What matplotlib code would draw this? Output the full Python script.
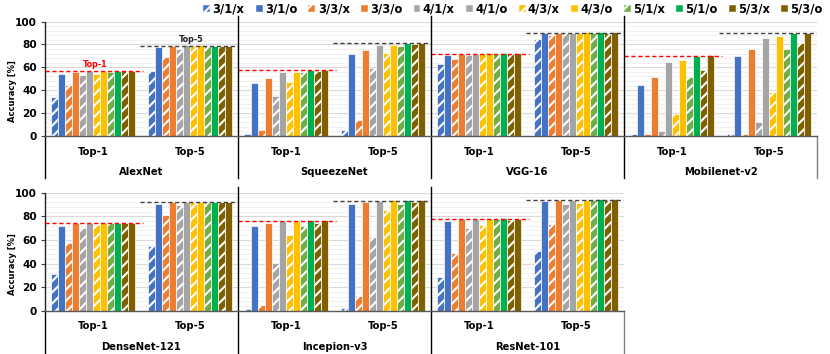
import matplotlib
matplotlib.use('Agg')
import matplotlib.pyplot as plt
from matplotlib.patches import Patch
from matplotlib.lines import Line2D
import matplotlib.transforms as mtrans
import numpy as np

plt.rcParams['font.family'] = ['DejaVu Sans']
plt.rcParams['font.weight'] = 'bold'
plt.rcParams['hatch.linewidth'] = 1.5

series = ['3/1/x', '3/1/o', '3/3/x', '3/3/o', '4/1/x', '4/1/o',
          '4/3/x', '4/3/o', '5/1/x', '5/1/o', '5/3/x', '5/3/o']
colors = ['#4472C4', '#4472C4', '#ED7D31', '#ED7D31', '#A5A5A5', '#A5A5A5',
          '#FFC000', '#FFC000', '#70AD47', '#00B050', '#7F6000', '#7F6000']
hatched = [True, False] * 6
categories = ['Top-1', 'Top-5']
yticks = [0, 20, 40, 60, 80, 100]

# values per model: Top-1 and Top-5 for each series, reference (baseline) Top-1 / Top-5
alexnet_top1 = [34, 54, 44.4, 55.8, 53.2, 56.7, 54.4, 56.4, 56.1, 56.4, 56.7, 57]
alexnet_top5 = [57, 78.1, 69, 79, 75.7, 79.2, 79, 79.2, 79.1, 79.1, 79.1, 79.1]
alexnet_ref = [56.7, 79]

squeezenet_top1 = [1.5, 45.9, 5, 50.6, 34.5, 55.6, 47.4, 56.1, 56.1, 57.3, 56.7, 57.6]
squeezenet_top5 = [5, 71.6, 13.7, 75.4, 59.4, 79.5, 72.2, 79.5, 78.4, 81, 80.7, 81]
squeezenet_ref = [57.6, 81]

vgg16_top1 = [62.9, 70.8, 67.3, 71.3, 70.8, 71.3, 71.6, 72.2, 71.3, 72.5, 71.3, 72.5]
vgg16_top5 = [84.8, 90.4, 88.6, 90.4, 90.4, 90.4, 90.4, 91, 90.4, 91.2, 90.1, 91]
vgg16_ref = [71.3, 90.4]

mobilenet_top1 = [1.2, 44.2, 1.2, 51.5, 4.4, 64.3, 19, 66.1, 51.5, 70.2, 57.3, 70.8]
mobilenet_top5 = [1.2, 69.9, 1.2, 76.3, 12.3, 86, 38, 87.7, 76, 90.1, 81.3, 90.1]
mobilenet_ref = [70.2, 90.4]

densenet_top1 = [31.4, 71.8, 57.6, 74, 70, 74, 72.6, 74, 74, 74, 74, 74]
densenet_top5 = [54.5, 90.7, 81.4, 91.8, 89.8, 91.8, 91.8, 91.8, 91.8, 91.8, 91.8, 91.8]
densenet_ref = [74, 91.8]

inception_top1 = [1.1, 71.5, 5, 74.6, 40.1, 75.7, 64.4, 75.7, 72, 76.8, 74.6, 76.8]
inception_top5 = [2, 90.7, 12.1, 92.4, 62.4, 92.7, 85.3, 93.8, 90.4, 93.8, 92.4, 94.1]
inception_ref = [75.7, 92.7]

resnet_top1 = [28.2, 76, 48.9, 77.4, 69.8, 77.4, 72.6, 77.7, 77.4, 78.5, 77.1, 77.7]
resnet_top5 = [50.6, 93.2, 73.7, 93.8, 90.1, 93.8, 91.5, 93.8, 94.1, 94.4, 93.8, 94.4]
resnet_ref = [77.7, 93.8]

models_top = ['AlexNet', 'SqueezeNet', 'VGG-16', 'Mobilenet-v2']
models_bottom = ['DenseNet-121', 'Incepion-v3', 'ResNet-101']

row_top = [(models_top[0], alexnet_top1, alexnet_top5, alexnet_ref),
           (models_top[1], squeezenet_top1, squeezenet_top5, squeezenet_ref),
           (models_top[2], vgg16_top1, vgg16_top5, vgg16_ref),
           (models_top[3], mobilenet_top1, mobilenet_top5, mobilenet_ref)]
row_bottom = [(models_bottom[0], densenet_top1, densenet_top5, densenet_ref),
              (models_bottom[1], inception_top1, inception_top5, inception_ref),
              (models_bottom[2], resnet_top1, resnet_top5, resnet_ref)]

W, H = 830, 354
fig = plt.figure(figsize=(W / 100, H / 100), dpi=100)


def fx(px):
    return px / W


def fy(py):
    return 1 - py / H


ax_top = fig.add_axes([fx(45), fy(135.7), fx(817) - fx(45), fy(21.7) - fy(135.7)])
ax_bot = fig.add_axes([fx(45), fy(310.7), fx(624) - fx(45), fy(192.7) - fy(310.7)])


def draw_row(ax, rows, hpx, cat_off, name_off, below, first_labels):
    n = len(rows)
    width = 0.874 / 12
    blend = mtrans.blended_transform_factory(ax.transData, ax.transAxes)
    for p, (name, t1, t5, ref) in enumerate(rows):
        for c, vals in enumerate([t1, t5]):
            center = 2 * p + c + 0.5
            xs = center + (np.arange(12) - 5.5) * width
            for i in range(12):
                ax.bar(xs[i], vals[i], width, color=colors[i], edgecolor='white',
                       linewidth=0.5, hatch='///' if hatched[i] else None, zorder=3)
            ax.text(center, 0, categories[c], fontsize=7.2, ha='center', va='center',
                    transform=mtrans.offset_copy(blend, fig=fig, y=-cat_off, units='dots'))
        ax.hlines(ref[0], 2 * p, 2 * p + 1.02, colors='#FF0000',
                  linestyles=(0, (3, 2)), lw=1.0, zorder=4)
        ax.hlines(ref[1], 2 * p + 0.98, 2 * p + 2, colors='#404040',
                  linestyles=(0, (3, 2)), lw=1.0, zorder=4)
        ax.text(2 * p + 1, 0, name, fontsize=7.2, ha='center', va='center',
                transform=mtrans.offset_copy(blend, fig=fig, y=-name_off, units='dots'))
        if first_labels and p == 0:
            ax.text(2 * p + 0.52, ref[0] + 1.5, 'Top-1', color='#FF0000', fontsize=5.8,
                    ha='center', va='bottom', zorder=5)
            ax.text(2 * p + 1.52, ref[1] + 1.5, 'Top-5', color='#202020', fontsize=5.8,
                    ha='center', va='bottom', zorder=5)
    y_low = -below / hpx
    for k in range(1, n):
        ax.add_line(Line2D([2 * k, 2 * k], [y_low, 1 + 6 / hpx], transform=blend,
                           color='black', lw=1.0, clip_on=False, zorder=6))
    ax.add_line(Line2D([0, 0], [y_low, 0], transform=blend,
                       color='black', lw=1.0, clip_on=False))
    ax.add_line(Line2D([2 * n, 2 * n], [y_low, 0], transform=blend,
                       color='#808080', lw=1.0, clip_on=False))
    ax.set_xlim(0, 2 * n)
    ax.set_ylim(0, 100)
    ax.set_yticks(yticks)
    ax.set_yticks(np.arange(0, 101, 4), minor=True)
    ax.tick_params(axis='y', which='major', length=3, width=0.8, color='#404040',
                   labelsize=7.6, pad=3)
    ax.tick_params(axis='y', which='minor', length=0)
    ax.set_xticks([])
    ax.grid(axis='y', which='major', color='#D9D9D9', lw=0.8, zorder=0)
    ax.grid(axis='y', which='minor', color='#EFEFEF', lw=0.6, zorder=0)
    ax.set_axisbelow(True)
    for s in ['top', 'right']:
        ax.spines[s].set_visible(False)
    ax.spines['left'].set_color('#202020')
    ax.spines['left'].set_linewidth(1.0)
    ax.spines['bottom'].set_color('#595959')
    ax.spines['bottom'].set_linewidth(1.0)
    ax.spines['bottom'].set_zorder(6)


draw_row(ax_top, row_top, 114.0, 16, 36, 42, True)
draw_row(ax_bot, row_bottom, 118.0, 15, 36, 44, False)

fig.text(fx(12.3), fy(91.5), 'Accuracy [%]', rotation=90, ha='center', va='center', fontsize=6)
fig.text(fx(12.3), fy(264), 'Accuracy [%]', rotation=90, ha='center', va='center', fontsize=6)

handles = [Patch(facecolor=colors[i], edgecolor='white', linewidth=0.3,
                 hatch='//' if hatched[i] else None) for i in range(12)]
fig.legend(handles, series, ncol=12, loc='center', bbox_to_anchor=(fx(513), fy(9)),
           frameon=False, fontsize=8.3, handlelength=0.6, handleheight=0.6,
           handletextpad=0.2, columnspacing=0.97, borderpad=0, borderaxespad=0)

fig.savefig('out.png', dpi=100)
